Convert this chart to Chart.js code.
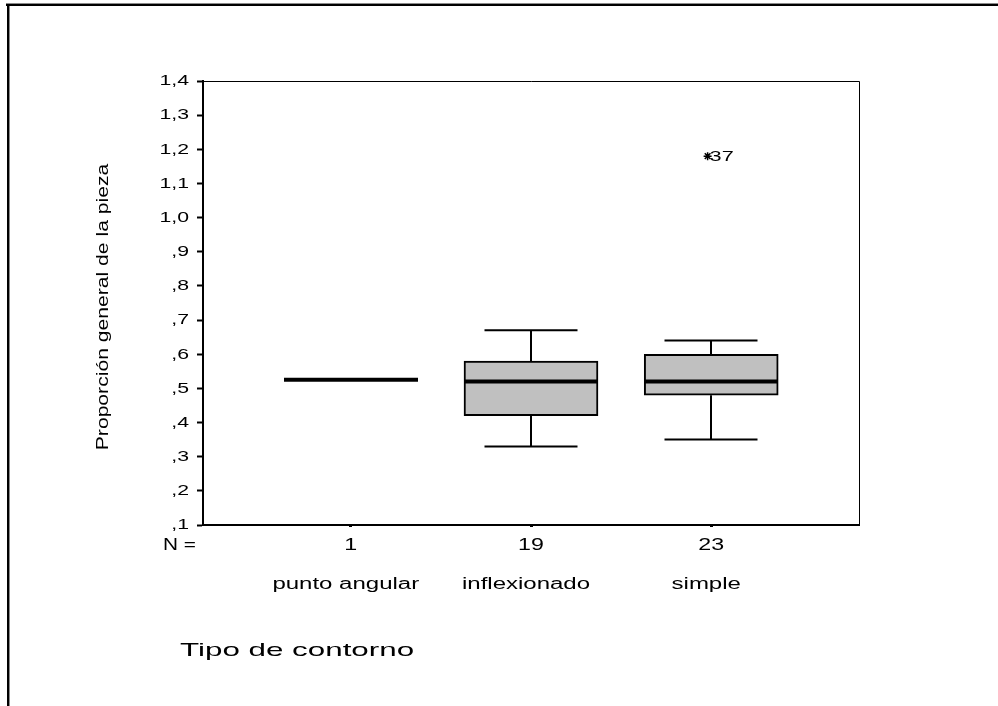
<!DOCTYPE html>
<html>
<head>
<meta charset="utf-8">
<script src="https://cdn.jsdelivr.net/npm/chart.js@4.4.0/dist/chart.umd.min.js"></script>
<style>
  html, body { margin: 0; padding: 0; background: #fff; }
  #wrap { position: relative; width: 998px; height: 706px; }
</style>
</head>
<body>
<div id="wrap"><canvas id="c" width="998" height="706"></canvas></div>
<script>
// Boxplot: Proporción general de la pieza por tipo de contorno
const categories = ['punto angular', 'inflexionado', 'simple'];
const counts = [1, 19, 23];
const whiskerLow  = [0.525, 0.33, 0.35];
const quartile1   = [0.525, 0.42, 0.48];
const medians     = [0.525, 0.52, 0.52];
const quartile3   = [0.525, 0.58, 0.60];
const whiskerHigh = [0.525, 0.67, 0.64];
const outlierCategory = [2];
const outlierValues = [1.18];
const outlierCases = ['37'];
const yTickValues = [0.1, 0.2, 0.3, 0.4, 0.5, 0.6, 0.7, 0.8, 0.9, 1.0, 1.1, 1.2, 1.3, 1.4];
const yTickLabels = [',1', ',2', ',3', ',4', ',5', ',6', ',7', ',8', ',9', '1,0', '1,1', '1,2', '1,3', '1,4'];
const countPrefix = 'N =';
const yTitle = 'Proporción general de la pieza';
const xTitle = 'Tipo de contorno';

const FONT = '"Liberation Sans", Arial, sans-serif';

// text widened along its own direction
function wideText(ctx, text, x, y, size, sx, align, rotate, family) {
  ctx.save();
  ctx.font = size + 'px ' + (family || FONT);
  ctx.fillStyle = '#000';
  ctx.textBaseline = 'middle';
  ctx.textAlign = align;
  ctx.translate(x, y);
  if (rotate) ctx.rotate(rotate);
  ctx.scale(sx, 1);
  ctx.fillText(text, 0, 0);
  ctx.restore();
}

const framePlugin = {
  id: 'frame',
  beforeDraw(chart) {
    const ctx = chart.ctx;
    ctx.save();
    ctx.fillStyle = '#fff';
    ctx.fillRect(0, 0, chart.width, chart.height);
    // outer page frame (top and left edges)
    ctx.fillStyle = '#8a8a8a';
    ctx.fillRect(6, 3, chart.width - 6, 1);
    ctx.fillRect(9, 6, 1, chart.height - 6);
    ctx.fillStyle = '#000';
    ctx.fillRect(6, 4, chart.width - 6, 2);
    ctx.fillRect(7, 4, 2, chart.height - 4);
    ctx.restore();
  },
  afterDraw(chart) {
    const ctx = chart.ctx;
    const a = chart.chartArea;
    ctx.save();
    ctx.strokeStyle = '#000';
    ctx.lineWidth = 1;
    ctx.beginPath();
    ctx.moveTo(a.left, a.top + 0.5);
    ctx.lineTo(a.right + 0.5, a.top + 0.5);
    ctx.lineTo(a.right + 0.5, a.bottom);
    ctx.stroke();
    ctx.restore();

    const ys = chart.scales.y, xs = chart.scales.x;
    // y tick labels
    ys.ticks.forEach((t, i) => {
      wideText(ctx, yTickLabels[i], 189, ys.getPixelForValue(t.value), 15.5, 1.37, 'right');
    });
    // counts and category names
    wideText(ctx, countPrefix, 163, 546, 16, 1.3, 'left');
    categories.forEach((c, i) => {
      const x = xs.getPixelForValue(i);
      wideText(ctx, String(counts[i]), x, 546, 16, 1.45, 'center');
      wideText(ctx, c, x - 5, 585, 16, 1.5, 'center');
    });
    // axis titles
    wideText(ctx, yTitle, 104, 307, 16, 1.32, 'center', -Math.PI / 2);
    wideText(ctx, xTitle, 180, 651, 19, 1.65, 'left');
    // outlier case labels
    const meta = chart.getDatasetMeta(1);
    meta.data.forEach((pt, i) => {
      wideText(ctx, outlierCases[i], pt.x + 2, pt.y + 1, 15.5, 1.4, 'left');
    });
  }
};

const boxPlugin = {
  id: 'boxParts',
  afterDatasetsDraw(chart) {
    const ctx = chart.ctx;
    const xs = chart.scales.x, ys = chart.scales.y;
    const bars = chart.getDatasetMeta(0).data;
    ctx.save();
    ctx.strokeStyle = '#000';
    categories.forEach((c, i) => {
      const x = Math.round(xs.getPixelForValue(i));
      const half = bars[i].width / 2;
      const capHalf = 46.5;
      const yLo = ys.getPixelForValue(whiskerLow[i]);
      const yQ1 = ys.getPixelForValue(quartile1[i]);
      const yQ3 = ys.getPixelForValue(quartile3[i]);
      const yHi = ys.getPixelForValue(whiskerHigh[i]);
      const yMed = ys.getPixelForValue(medians[i]);
      if (whiskerHigh[i] !== quartile3[i] || whiskerLow[i] !== quartile1[i]) {
        ctx.lineWidth = 2;
        ctx.beginPath();
        ctx.moveTo(x, yQ3); ctx.lineTo(x, yHi);
        ctx.moveTo(x - capHalf, yHi); ctx.lineTo(x + capHalf, yHi);
        ctx.moveTo(x, yQ1); ctx.lineTo(x, yLo);
        ctx.moveTo(x - capHalf, yLo); ctx.lineTo(x + capHalf, yLo);
        ctx.stroke();
      }
      ctx.lineWidth = 4;
      ctx.beginPath();
      ctx.moveTo(x - half, yMed); ctx.lineTo(x + half, yMed);
      ctx.stroke();
    });
    ctx.restore();
  }
};

new Chart(document.getElementById('c'), {
  type: 'bar',
  data: {
    datasets: [
      {
        type: 'bar',
        data: categories.map((c, i) => ({ x: i, y: [quartile1[i], quartile3[i]] })),
        backgroundColor: '#c0c0c0',
        borderColor: '#000',
        borderWidth: 2,
        borderSkipped: false,
        barThickness: 134
      },
      {
        type: 'scatter',
        data: outlierCategory.map((c, i) => ({ x: c - 0.02, y: outlierValues[i] })),
        pointStyle: 'star',
        pointRadius: 4,
        borderColor: '#000',
        borderWidth: 1.5
      }
    ]
  },
  options: {
    responsive: false,
    animation: false,
    events: [],
    layout: { padding: { left: 0, top: 81, right: 139, bottom: 0 } },
    plugins: { legend: { display: false }, tooltip: { enabled: false } },
    scales: {
      x: {
        type: 'linear',
        offset: false,
        min: -0.82,
        max: 2.82,
        afterBuildTicks(s) { s.ticks = categories.map((c, i) => ({ value: i })); },
        afterFit(s) { s.height = 181; },
        ticks: { display: false },
        grid: { offset: false, drawOnChartArea: false, drawTicks: true, tickLength: 2, tickWidth: 3, tickColor: '#000' },
        border: { color: '#000', width: 2 }
      },
      y: {
        type: 'linear',
        min: 0.1,
        max: 1.4,
        afterBuildTicks(s) { s.ticks = yTickValues.map(v => ({ value: v })); },
        afterFit(s) { s.width = 203; },
        ticks: { display: false },
        grid: { drawOnChartArea: false, drawTicks: true, tickLength: 6, tickWidth: 2, tickColor: '#000' },
        border: { color: '#000', width: 2 }
      }
    }
  },
  plugins: [framePlugin, boxPlugin]
});
</script>
</body>
</html>
